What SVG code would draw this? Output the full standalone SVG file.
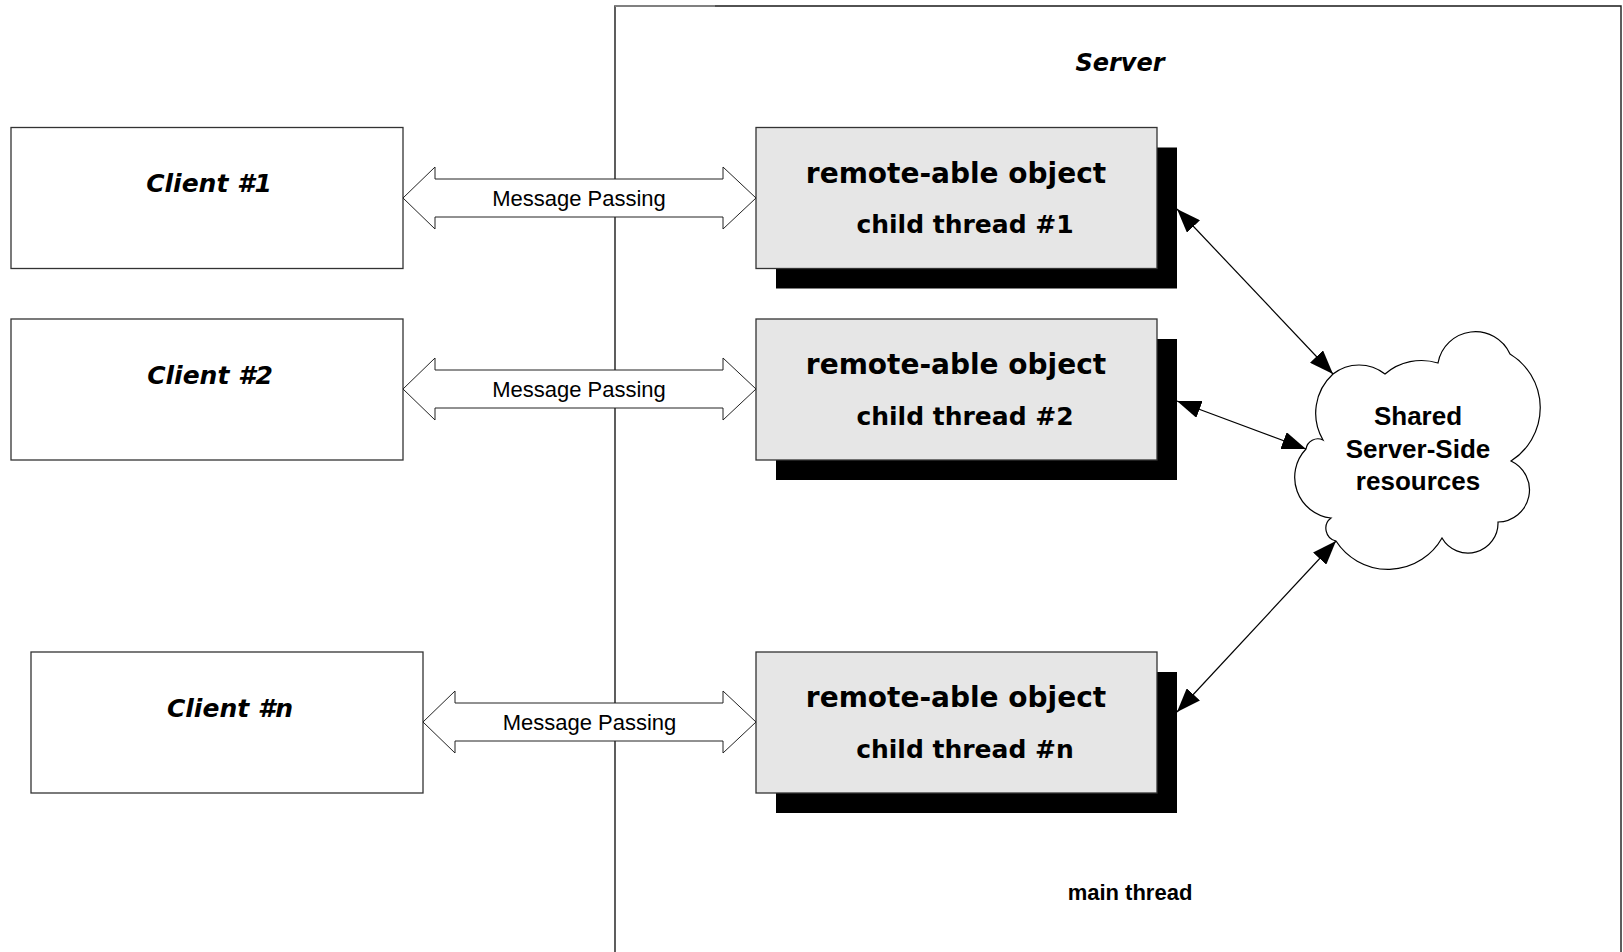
<svg xmlns="http://www.w3.org/2000/svg" width="1623" height="952" viewBox="0 0 1623 952">
  <style>
    .frame { fill: none; stroke: #1a1a1a; stroke-width: 1.4; }
    .client { fill: #ffffff; stroke: #333333; stroke-width: 1.3; }
    .obj { fill: #e6e6e6; stroke: #333333; stroke-width: 1.3; }
    .shadow { fill: #000000; }
    .msg { fill: #ffffff; stroke: #222222; stroke-width: 1; }
    .link { stroke: #000000; stroke-width: 1.2; fill: none; marker-start: url(#head); marker-end: url(#head); }
    .cloud { fill: #ffffff; stroke: #000000; stroke-width: 1.2; }
    .title { font-family: "DejaVu Sans", Verdana, sans-serif; font-weight: bold; font-style: italic; fill: #000; text-anchor: middle; }
    .objtext { font-family: "DejaVu Sans", Verdana, sans-serif; font-weight: bold; fill: #000; text-anchor: middle; }
    .msgtext { font-family: "Liberation Sans", Arial, sans-serif; font-size: 22px; fill: #000; text-anchor: middle; }
    .boldtext { font-family: "Liberation Sans", Arial, sans-serif; font-weight: bold; fill: #000; text-anchor: middle; }
  </style>
  <defs>
    <marker id="head" viewBox="0 0 24 18" refX="24" refY="9" markerWidth="24" markerHeight="18" markerUnits="userSpaceOnUse" orient="auto-start-reverse">
      <path d="M0,0 L24,9 L0,18 Z" fill="#000"/>
    </marker>
  </defs>

  <rect width="1623" height="952" fill="#ffffff"/>

  <!-- server process boundary (open at the bottom) -->
  <g id="server">
    <path class="frame" d="M615,952 L615,6 L1621,6 L1621,952"/>
    <line x1="615" y1="6" x2="715" y2="6" stroke="#808080" stroke-width="2"/>
    <text class="title" x="1120" y="71" font-size="24">Server</text>
    <text class="boldtext" x="1130" y="900" font-size="22">main thread</text>
  </g>

  <!-- clients -->
  <g id="client1">
    <rect class="client" x="11" y="127.5" width="392" height="141"/>
    <text class="title" x="209" y="192" font-size="25">Client #1</text>
  </g>
  <g id="client2">
    <rect class="client" x="11" y="319" width="392" height="141"/>
    <text class="title" x="210" y="384" font-size="25">Client #2</text>
  </g>
  <g id="clientn">
    <rect class="client" x="31" y="652" width="392" height="141"/>
    <text class="title" x="230" y="717" font-size="25">Client #n</text>
  </g>

  <!-- remote-able objects on child threads -->
  <g id="object1">
    <rect class="shadow" x="776" y="147.5" width="401" height="141"/>
    <rect class="obj" x="756" y="127.5" width="401" height="141"/>
    <text class="objtext" x="956" y="182.5" font-size="28">remote-able object</text>
    <text class="objtext" x="965" y="233" font-size="25">child thread #1</text>
  </g>
  <g id="object2">
    <rect class="shadow" x="776" y="339" width="401" height="141"/>
    <rect class="obj" x="756" y="319" width="401" height="141"/>
    <text class="objtext" x="956" y="374" font-size="28">remote-able object</text>
    <text class="objtext" x="965" y="424.5" font-size="25">child thread #2</text>
  </g>
  <g id="objectn">
    <rect class="shadow" x="776" y="672" width="401" height="141"/>
    <rect class="obj" x="756" y="652" width="401" height="141"/>
    <text class="objtext" x="956" y="707" font-size="28">remote-able object</text>
    <text class="objtext" x="965" y="757.5" font-size="25">child thread #n</text>
  </g>

  <!-- shared resources cloud -->
  <g id="resources">
    <path class="cloud" d="M1333,374 A42 42 0 0 1 1385,374 A56 56 0 0 1 1438,363 A38 38 0 0 1 1510,354 A63 63 0 0 1 1511,461 A32 32 0 0 1 1498,522 A30 30 0 0 1 1442,538 A62 62 0 0 1 1336,541 A13 13 0 0 1 1331,518 A41 41 0 0 1 1306,449 A12 12 0 0 1 1323,440 A53 53 0 0 1 1333,374 Z"/>
    <text class="boldtext" x="1418" y="425" font-size="26">Shared</text>
    <text class="boldtext" x="1418" y="458" font-size="26">Server-Side</text>
    <text class="boldtext" x="1418" y="490" font-size="26">resources</text>
  </g>

  <!-- connectors -->
  <g id="connectors">
    <path class="msg" d="M403,198 L435,167 L435,179 L723,179 L723,167 L756,198 L723,229 L723,217 L435,217 L435,229 Z"/>
    <text class="msgtext" x="579" y="206">Message Passing</text>
    <path class="msg" d="M403,389 L435,358 L435,370 L723,370 L723,358 L756,389 L723,420 L723,408 L435,408 L435,420 Z"/>
    <text class="msgtext" x="579" y="397">Message Passing</text>
    <path class="msg" d="M423,722 L455,691 L455,703 L723,703 L723,691 L756,722 L723,753 L723,741 L455,741 L455,753 Z"/>
    <text class="msgtext" x="589.5" y="730">Message Passing</text>
    <line class="link" x1="1177" y1="209" x2="1333" y2="374"/>
    <line class="link" x1="1177" y1="401" x2="1306" y2="449"/>
    <line class="link" x1="1177" y1="712" x2="1336" y2="541"/>
  </g>
</svg>
